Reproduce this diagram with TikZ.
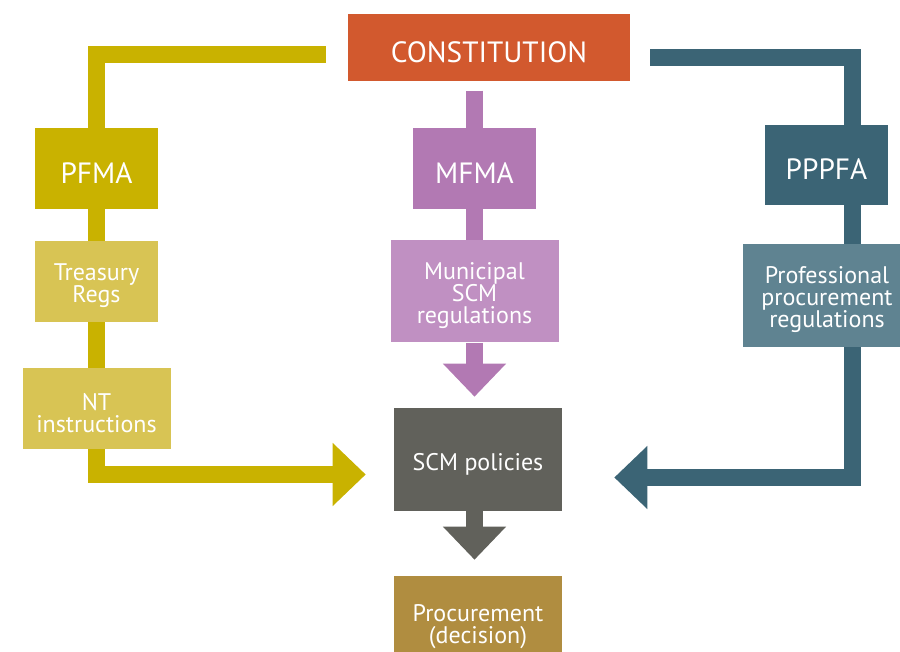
\documentclass[tikz,border=0pt]{standalone}
\usepackage{fontspec}
\setmainfont{PT Sans}
\usetikzlibrary{arrows.meta, backgrounds}

\definecolor{corange}{HTML}{D2592E}
\definecolor{cyellow}{HTML}{C9B200}
\definecolor{cyellowlt}{HTML}{D8C454}
\definecolor{cpurple}{HTML}{B279B3}
\definecolor{cpurplelt}{HTML}{C090C2}
\definecolor{cteal}{HTML}{3B6475}
\definecolor{ctealt}{HTML}{5F8391}
\definecolor{cgrey}{HTML}{61615B}
\definecolor{cgold}{HTML}{B08D40}

\tikzset{
  box/.style={fill=#1, inner sep=0pt},
  txt/.style={text=white, inner sep=0pt, align=center, yshift=-3.4pt, font=\fontsize{18}{16.5}\selectfont},
  bigtxt/.style={txt, font=\fontsize{22}{24}\selectfont},
  band/.style={draw=#1, line width=12.75pt, line join=miter},
  bigarrow/.style={band=#1, -{Triangle[width=45.75pt, length=24.75pt]}}
}

\begin{document}
\begin{tikzpicture}[x=0.75pt, y=-0.75pt]
    \useasboundingbox (0,0) rectangle (900,652);

    % Draw the boxes
    \node[box=corange, minimum width=282*0.75pt, minimum height=67*0.75pt,
          label={[bigtxt]center:CONSTITUTION}] (const) at (489,47.5) {};

    \node[box=cyellow, minimum width=123*0.75pt, minimum height=81*0.75pt,
          label={[bigtxt]center:PFMA}] (pfma) at (96.5,168.5) {};
    \node[box=cyellowlt, minimum width=123*0.75pt, minimum height=81*0.75pt,
          label={[txt]center:Treasury\\Regs}] (treas) at (96.5,281.5) {};
    \node[box=cyellowlt, minimum width=148*0.75pt, minimum height=81*0.75pt,
          label={[txt]center:NT\\instructions}] (nt) at (96.5,408.5) {};

    \node[box=cpurple, minimum width=123*0.75pt, minimum height=81*0.75pt,
          label={[bigtxt]center:MFMA}] (mfma) at (474.5,168.5) {};
    \node[box=cpurplelt, minimum width=168*0.75pt, minimum height=102*0.75pt,
          label={[txt]center:Municipal\\SCM\\regulations}] (muni) at (474.5,291.5) {};

    \node[box=cteal, minimum width=123*0.75pt, minimum height=80*0.75pt,
          label={[bigtxt]center:PPPFA}] (pppfa) at (826.5,165) {};
    \node[box=ctealt, minimum width=168*0.75pt, minimum height=103*0.75pt,
          label={[txt]center:Professional\\procurement\\regulations}] (prof) at (827,295.5) {};

    \node[box=cgrey, minimum width=168*0.75pt, minimum height=103*0.75pt,
          label={[txt]center:SCM policies}] (scm) at (478,459.5) {};
    \node[box=cgold, minimum width=168*0.75pt, minimum height=103*0.75pt,
          label={[txt, yshift=3.8pt]center:Procurement\\(decision)}] (proc) at (478,627.5) {};

    % Free ends of the bands
    \coordinate (ystart) at ([shift={(-22,7)}]const.west);
    \coordinate (ytip) at ([shift={(-28,15)}]scm.west);
    \coordinate (tstart) at ([shift={(20,10)}]const.east);
    \coordinate (tx) at ([shift={(26,0)}]pppfa.center);
    \coordinate (ttip) at ([shift={(52,18)}]scm.east);
    \coordinate (pstart) at ([shift={(0,-37)}]mfma.north);
    \coordinate (ptip) at ([shift={(0,-11)}]scm.north);
    \coordinate (gtip) at ([shift={(0,-16)}]proc.north);

    % Draw the bands behind the boxes
    \begin{scope}[on background layer]
      \draw[band=cyellow] (ystart) -| (nt.north);
      \draw[bigarrow=cyellow] (nt.south) |- (ytip);

      \draw[band=cpurple] (pstart) -- (mfma.north);
      \draw[band=cpurple] (mfma.south) -- (muni.north);
      \draw[bigarrow=cpurple] (muni.south) -- (muni.south |- ptip);

      \draw[bigarrow=cteal] (tstart) -| (tx) |- (ttip);

      \draw[bigarrow=cgrey] (muni.south |- scm.south) -- (muni.south |- gtip);
    \end{scope}
\end{tikzpicture}
\end{document}
